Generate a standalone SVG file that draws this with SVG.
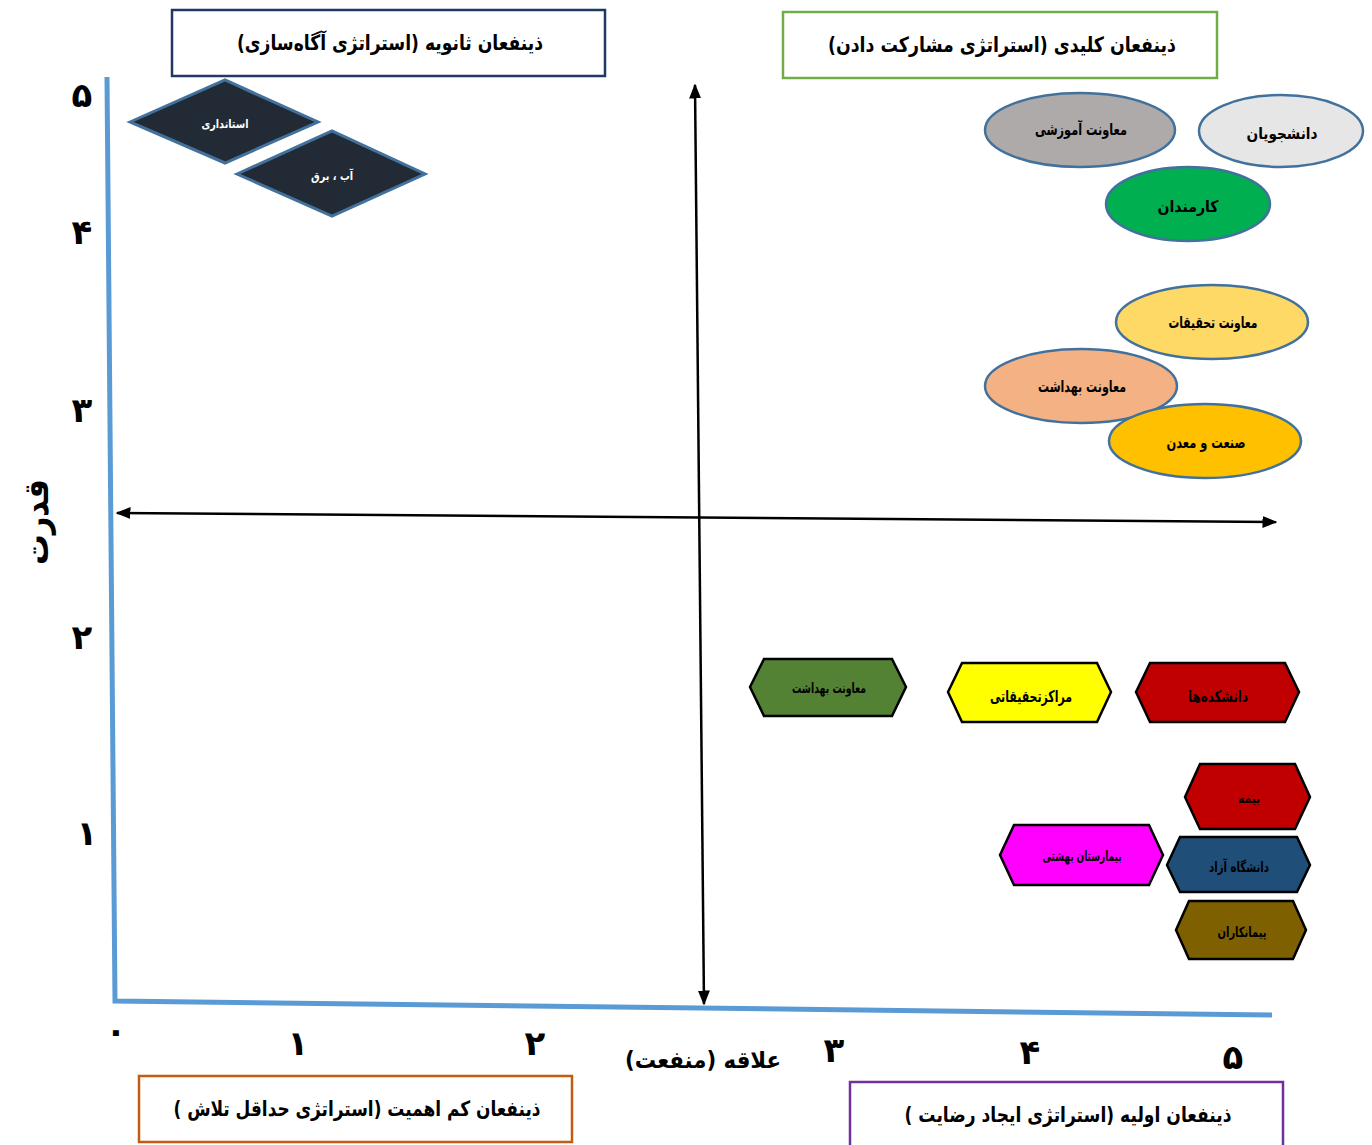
<svg xmlns="http://www.w3.org/2000/svg" width="1372" height="1145" viewBox="0 0 1372 1145">
<style>
text{font-family:"DejaVu Sans","Noto Sans",sans-serif;font-weight:bold;direction:rtl;unicode-bidi:embed;text-anchor:middle;dominant-baseline:central;fill:#000}
.title{font-size:21px}
.num{font-size:34px}
.box{fill:#fff;stroke-width:2.5}
.dia{fill:#222A35;stroke:#41719C;stroke-width:3}
.ell{stroke:#41719C;stroke-width:2.5}
.hex{stroke:#000;stroke-width:2.5}
.wl{fill:#fff;font-size:12px}
.el{font-size:16px}
.hl{font-size:14px}
.axis{stroke:#5B9BD5;stroke-width:5;fill:none}
.arr{stroke:#000;stroke-width:2.5;fill:none;marker-start:url(#ah);marker-end:url(#ah)}
</style>
<defs>
<marker id="ah" viewBox="0 0 10 10" refX="9" refY="5" markerWidth="6" markerHeight="6" orient="auto-start-reverse" markerUnits="strokeWidth">
<path d="M0,1 L10,5 L0,9 z" fill="#000"/>
</marker>
</defs>
<rect width="1372" height="1145" fill="#fff"/>

<g id="axes">
<path class="axis" d="M107,77 L115,1001 L1272,1015"/>
</g>

<g id="connectors">
<line class="arr" x1="117" y1="513" x2="1276" y2="522"/>
<line class="arr" x1="695" y1="85" x2="704" y2="1004"/>
</g>

<g id="y-labels">
<text class="num" x="82" y="95">۵</text>
<text class="num" x="82" y="232">۴</text>
<text class="num" x="82" y="410">۳</text>
<text class="num" x="82" y="637">۲</text>
<text class="num" x="87" y="833">۱</text>
<text x="36" y="522" font-size="34" transform="rotate(-90 36 522)" textLength="86" lengthAdjust="spacingAndGlyphs">قدرت</text>
</g>

<g id="x-labels">
<text class="num" x="116" y="1031" font-size="56">۰</text>
<text class="num" x="298" y="1043">۱</text>
<text class="num" x="535" y="1043">۲</text>
<text class="num" x="834" y="1050">۳</text>
<text class="num" x="1030" y="1052">۴</text>
<text class="num" x="1233" y="1057">۵</text>
<text x="703" y="1060" font-size="23" textLength="156" lengthAdjust="spacingAndGlyphs">علاقه (منفعت)</text>
</g>

<g id="box-secondary">
<rect class="box" x="172" y="10" width="433" height="66" stroke="#1F3864"/>
<text class="title" x="390" y="43" textLength="306" lengthAdjust="spacingAndGlyphs">ذینفعان ثانویه (استراتژی آگاه‌سازی)</text>
</g>
<g id="box-key">
<rect class="box" x="783" y="12" width="434" height="66" stroke="#70AD47"/>
<text class="title" x="1002" y="45" textLength="348" lengthAdjust="spacingAndGlyphs">ذینفعان کلیدی (استراتژی مشارکت دادن)</text>
</g>
<g id="box-low">
<rect class="box" x="139" y="1076" width="433" height="66" stroke="#C55A11"/>
<text class="title" x="357" y="1109" textLength="367" lengthAdjust="spacingAndGlyphs">ذینفعان کم اهمیت (استراتژی حداقل تلاش )</text>
</g>
<g id="box-primary">
<rect class="box" x="850" y="1082" width="433" height="72" stroke="#7030A0"/>
<text class="title" x="1068" y="1115" textLength="327" lengthAdjust="spacingAndGlyphs">ذینفعان اولیه (استراتژی ایجاد رضایت )</text>
</g>

<g id="n-ostandari">
<polygon class="dia" points="130,122 225,80 318,122 225,163"/>
<text class="wl" x="225" y="124" textLength="47" lengthAdjust="spacingAndGlyphs">استانداری</text>
</g>
<g id="n-abbargh">
<polygon class="dia" points="237,174 332,131 425,174 332,216"/>
<text class="wl" x="332" y="176" textLength="42" lengthAdjust="spacingAndGlyphs">آب ، برق</text>
</g>

<g id="n-amoozeshi">
<ellipse class="ell" cx="1080" cy="130" rx="95" ry="37" fill="#AEAAAA"/>
<text class="el" x="1081" y="129" textLength="92" lengthAdjust="spacingAndGlyphs">معاونت آموزشی</text>
</g>
<g id="n-daneshjooyan">
<ellipse class="ell" cx="1281" cy="131" rx="82" ry="36" fill="#E7E6E6"/>
<text class="el" x="1282" y="133" textLength="71" lengthAdjust="spacingAndGlyphs">دانشجویان</text>
</g>
<g id="n-karmandan">
<ellipse class="ell" cx="1188" cy="204" rx="82" ry="37" fill="#00B050"/>
<text class="el" x="1188" y="206" textLength="61" lengthAdjust="spacingAndGlyphs">کارمندان</text>
</g>
<g id="n-tahghighat">
<ellipse class="ell" cx="1212" cy="322" rx="96" ry="37" fill="#FFD966"/>
<text class="el" x="1213" y="322" textLength="89" lengthAdjust="spacingAndGlyphs">معاونت تحقیقات</text>
</g>
<g id="n-behdasht-e">
<ellipse class="ell" cx="1081" cy="386" rx="96" ry="37" fill="#F4B183"/>
<text class="el" x="1082" y="386" textLength="88" lengthAdjust="spacingAndGlyphs">معاونت بهداشت</text>
</g>
<g id="n-sanat">
<ellipse class="ell" cx="1205" cy="441" rx="96" ry="37" fill="#FFC000"/>
<text class="el" x="1206" y="442" textLength="79" lengthAdjust="spacingAndGlyphs">صنعت و معدن</text>
</g>

<g id="n-behdasht-h">
<polygon class="hex" points="750,687 764,659 892,659 906,687 892,716 764,716" fill="#548235"/>
<text class="hl" x="829" y="688" textLength="74" lengthAdjust="spacingAndGlyphs">معاونت بهداشت</text>
</g>
<g id="n-marakez">
<polygon class="hex" points="948,692 962,663 1097,663 1111,692 1097,722 962,722" fill="#FFFF00"/>
<text class="el" x="1031" y="696" textLength="82" lengthAdjust="spacingAndGlyphs">مراکزتحقیقاتی</text>
</g>
<g id="n-daneshkade">
<polygon class="hex" points="1136,692 1150,663 1285,663 1299,692 1285,722 1150,722" fill="#C00000"/>
<text class="el" x="1218" y="696" textLength="60" lengthAdjust="spacingAndGlyphs">دانشکده‌ها</text>
</g>
<g id="n-bime">
<polygon class="hex" points="1185,797 1200,764 1295,764 1310,797 1295,829 1200,829" fill="#C00000"/>
<text class="hl" x="1249" y="798" textLength="22" lengthAdjust="spacingAndGlyphs">بیمه</text>
</g>
<g id="n-beheshti">
<polygon class="hex" points="1000,855 1014,825 1149,825 1163,855 1149,885 1014,885" fill="#FF00FF"/>
<text class="hl" x="1082" y="856" textLength="79" lengthAdjust="spacingAndGlyphs">بیمارستان بهشتی</text>
</g>
<g id="n-azad">
<polygon class="hex" points="1167,865 1180,837 1297,837 1310,865 1297,892 1180,892" fill="#1F4E79"/>
<text class="hl" x="1239" y="867" textLength="60" lengthAdjust="spacingAndGlyphs">دانشگاه آزاد</text>
</g>
<g id="n-peymankaran">
<polygon class="hex" points="1176,930 1189,901 1293,901 1306,930 1293,959 1189,959" fill="#7F6000"/>
<text class="hl" x="1242" y="932" textLength="49" lengthAdjust="spacingAndGlyphs">پیمانکاران</text>
</g>
</svg>
